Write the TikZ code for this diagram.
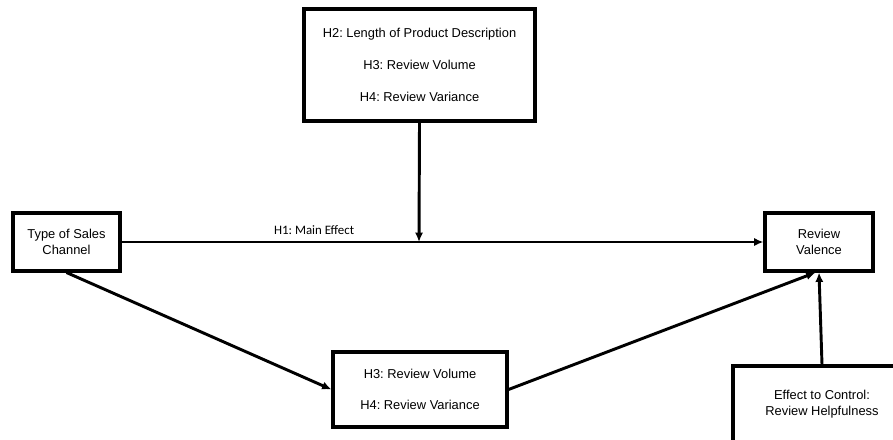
\documentclass[tikz,border=0pt]{standalone}
\usepackage{fontspec}
\setmainfont{Liberation Sans}
\newfontfamily\labelfont{Carlito}
\usetikzlibrary{arrows.meta}
\frenchspacing

\tikzset{
    box/.style={draw, line width=2.6pt, align=center, inner sep=0pt,
        font=\fontsize{11}{13.6}\selectfont},
    arr/.style={line width=2.5pt, -{Latex[length=8pt,width=7pt]}}
}

\begin{document}
\begin{tikzpicture}[x=0.03cm,y=-0.03cm]

    \useasboundingbox (0,0) rectangle (893,439);
    \clip (0,0) rectangle (893,439);

    % the five boxes, placed at their centres
    \node[box, minimum width=6.93cm, minimum height=3.36cm,
        font=\fontsize{11}{27}\selectfont] (mod) at (419.5,65)
        {H2: Length of Product Description\\H3: Review Volume\\H4: Review Variance};
    \node[box, minimum width=3.21cm, minimum height=1.74cm] (chan) at (66.5,242)
        {Type of Sales\\Channel};
    \node[box, minimum width=3.24cm, minimum height=1.74cm] (val) at (819,242)
        {Review\\Valence};
    \node[box, minimum width=5.22cm, minimum height=2.25cm,
        font=\fontsize{11}{27}\selectfont] (med) at (420,389.5)
        {H3: Review Volume\\H4: Review Variance};
    \node[box, minimum width=5.34cm, minimum height=2.31cm] (ctrl) at (822,404.5)
        {Effect to Control:\\Review Helpfulness};

    \coordinate (hit) at (419,242);

    \draw[arr] (chan.east) -- node[pos=0.3, above=2pt, font=\labelfont\fontsize{11}{13}\selectfont] (h1) {H1: Main Effect} (val.west);
    \draw[arr] (mod.south) -- (hit);
    \draw[arr] (chan.south) -- (med.west);
    \draw[arr] (med.east) -- ([xshift=-3]val.south);
    \draw[arr] (ctrl.north) -- (val.south);

\end{tikzpicture}
\end{document}
